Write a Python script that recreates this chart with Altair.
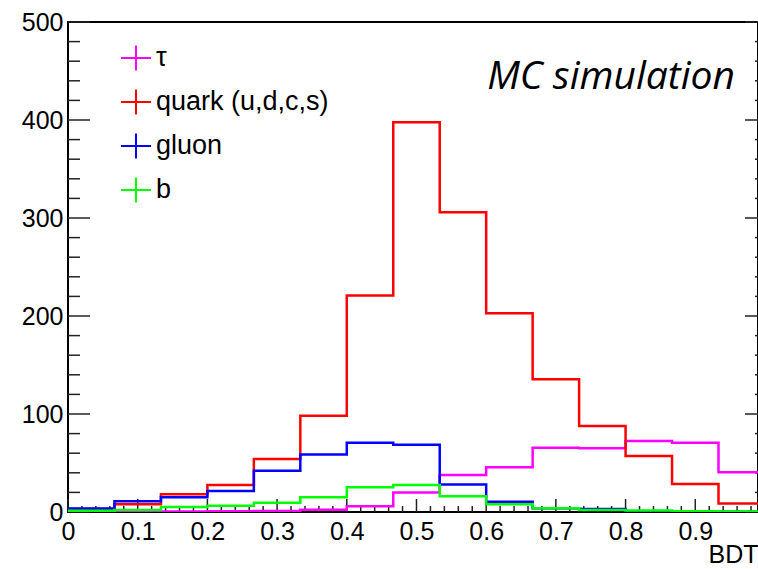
import altair as alt
import pandas as pd
import numpy as np

# ---- data -------------------------------------------------------------
n_bins = 15
bin_edges = list(np.linspace(0.0, 1.0, n_bins + 1))

series_names = ["τ", "quark (u,d,c,s)", "gluon", "b"]
series_colors = ["#ff00ff", "#ff0000", "#0000ff", "#00ff00"]

tau_counts = [0, 0.3, 0.5, 0.7, 1.0, 2.4, 5.8, 20, 37.8, 45.6, 65.6, 65, 72.4, 70.7, 40.5]
quark_counts = [3, 8, 18, 27.5, 54, 98.3, 221, 397.6, 305.8, 202.7, 135.4, 87.8, 57.1, 28.6, 8.8]
gluon_counts = [3.5, 11, 15, 21.4, 42, 58.6, 70.7, 68.7, 28, 10.5, 3.7, 3, 0.5, 0.3, 0.2]
b_counts = [1.4, 2, 5.1, 6.5, 9.5, 15, 25.2, 27.6, 16, 7.8, 3.7, 2, 1.5, 0.8, 0.5]

x_major = [0, 0.1, 0.2, 0.3, 0.4, 0.5, 0.6, 0.7, 0.8, 0.9]
x_minor = [round(0.02 * i, 2) for i in range(50) if i % 5 != 0]
y_major = [0, 100, 200, 300, 400, 500]
y_minor = [v for v in range(0, 501, 20) if v % 100 != 0]

annotation = ["MC simulation"]
x_title = "BDT"

# ---- build tables -------------------------------------------------------
all_counts = [tau_counts, quark_counts, gluon_counts, b_counts]
rows = []
for name, counts in zip(series_names, all_counts):
    for i, c in enumerate(counts):
        rows.append({"series": name, "x": bin_edges[i], "y": c})
    rows.append({"series": name, "x": bin_edges[-1], "y": counts[-1]})
hist = pd.DataFrame(rows)

FONT = "Liberation Sans"
x_scale = alt.Scale(domain=[0, 0.99], nice=False, zero=False)
y_scale = alt.Scale(domain=[0, 500], nice=False)
color_scale = alt.Scale(domain=series_names, range=series_colors)

W, H = 690, 490

# tick marks (ROOT style, inside the frame)
ymaj = pd.DataFrame({"v": y_major})
ymin = pd.DataFrame({"v": y_minor})
xmaj = pd.DataFrame({"v": x_major})
xmin = pd.DataFrame({"v": x_minor})

tick_color = "#222222"
ticks = [
    alt.Chart(ymaj).mark_rule(color=tick_color, strokeWidth=1.5).encode(
        y=alt.Y("v:Q", scale=y_scale, axis=None), x=alt.value(0), x2=alt.value(22)),
    alt.Chart(ymin).mark_rule(color=tick_color, strokeWidth=1.5).encode(
        y=alt.Y("v:Q", scale=y_scale, axis=None), x=alt.value(0), x2=alt.value(12)),
    alt.Chart(ymaj).mark_rule(color=tick_color, strokeWidth=1.5).encode(
        y=alt.Y("v:Q", scale=y_scale, axis=None), x=alt.value(677), x2=alt.value(W)),
    alt.Chart(ymin).mark_rule(color=tick_color, strokeWidth=1.5).encode(
        y=alt.Y("v:Q", scale=y_scale, axis=None), x=alt.value(687), x2=alt.value(W)),
    alt.Chart(xmaj).mark_rule(color=tick_color, strokeWidth=1.5).encode(
        x=alt.X("v:Q", scale=x_scale, axis=None), y=alt.value(H - 13), y2=alt.value(H)),
    alt.Chart(xmin).mark_rule(color=tick_color, strokeWidth=1.5).encode(
        x=alt.X("v:Q", scale=x_scale, axis=None), y=alt.value(H - 6), y2=alt.value(H)),
]

x_axis = alt.Axis(
    values=x_major, format=".1~f", labelFont=FONT, labelFontSize=25, labelColor="black",
    labelPadding=7, labelFlush=False, labelOverlap=False, ticks=False, grid=False,
    domain=False, title=x_title, titleFont=FONT, titleFontSize=25,
    titleFontWeight="normal", titleColor="black", titleAnchor="end", titleAlign="right",
    titleX=W, titleY=50, titleBaseline="alphabetic",
)
y_axis = alt.Axis(
    values=y_major, labelFont=FONT, labelFontSize=25, labelColor="black",
    labelPadding=5, labelFlush=False, labelOverlap=False, ticks=False, grid=False,
    domain=False, title=None,
)

legend = alt.Legend(
    title=None, orient="none", legendX=52, legendY=20, padding=0,
    symbolType="M-1,0H1M0,-0.83V0.83", symbolSize=900, symbolStrokeWidth=2,
    symbolFillColor="transparent",
    labelFont=FONT, labelFontSize=27, labelColor="black", labelOffset=4,
    rowPadding=10, labelLimit=400,
)

lines = []
for k, name in enumerate(series_names):
    enc = dict(
        x=alt.X("x:Q", scale=x_scale, axis=x_axis if k == 0 else None),
        y=alt.Y("y:Q", scale=y_scale, axis=y_axis if k == 0 else None),
        color=alt.Color("series:N", scale=color_scale, legend=legend if k == 0 else None),
    )
    lines.append(
        alt.Chart(hist).transform_filter(alt.datum.series == name)
        .mark_line(interpolate="step-after", strokeWidth=2.5, clip=True)
        .encode(**enc)
    )

label = alt.Chart(pd.DataFrame({"t": annotation})).mark_text(
    font="Open Sans", fontStyle="italic", fontSize=39, align="right",
    baseline="alphabetic", color="black",
).encode(text="t:N", x=alt.value(667), y=alt.value(67))

chart = alt.layer(*ticks, *lines, label).resolve_axis(
    x="independent", y="independent"
).properties(
    width=W, height=H,
    autosize=alt.AutoSizeParams(type="none"),
    padding={"left": 68, "top": 22, "right": 0, "bottom": 57},
    background="white",
).configure_view(stroke="black", strokeWidth=2)

chart.save("out.html", embed_options={"renderer": "svg", "actions": False})
